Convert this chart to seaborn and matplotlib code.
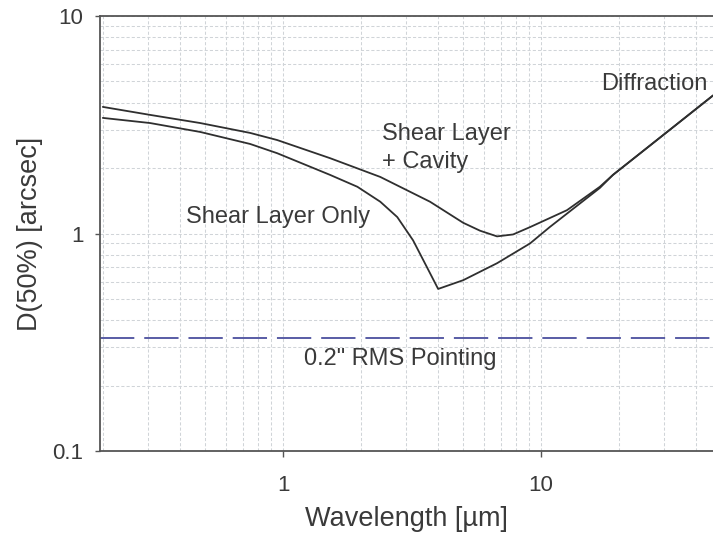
import matplotlib
matplotlib.use("Agg")
import matplotlib.pyplot as plt
import seaborn as sns
import pandas as pd
from matplotlib.ticker import LogLocator, FuncFormatter, NullFormatter

# Image size D(50%) versus wavelength, log-log
wavelength_cavity = [0.2, 0.305, 0.477, 0.745, 0.948, 1.52, 2.38, 3.71, 4.99,
                     5.80, 6.75, 7.79, 9.06, 12.6, 16.9, 19.0, 30.8, 46.4]
d50_cavity = [3.82, 3.51, 3.22, 2.90, 2.69, 2.22, 1.82, 1.40, 1.12,
              1.03, 0.97, 0.99, 1.07, 1.28, 1.64, 1.86, 2.93, 4.31]

wavelength_shear = [0.2, 0.305, 0.477, 0.745, 0.948, 1.52, 1.94, 2.38, 2.77,
                    3.19, 3.61, 3.99, 4.99, 6.75, 9.06, 10.8, 16.9, 19.0, 30.8, 46.4]
d50_shear = [3.40, 3.22, 2.93, 2.58, 2.34, 1.86, 1.64, 1.40, 1.19,
             0.93, 0.70, 0.556, 0.61, 0.73, 0.90, 1.07, 1.62, 1.86, 2.93, 4.31]

pointing_wavelength = [0.195, 46.4]
pointing_d50 = [0.33, 0.33]

x_limits = (0.195, 46.4)
y_limits = (0.1, 10)

sns.set_theme(style="white")
plt.rcParams["font.family"] = ["Liberation Sans", "DejaVu Sans"]

text_color = "#3a3a3a"
curve_color = "#2f2f2f"

fig = plt.figure(figsize=(7.13, 5.37), dpi=100)
ax = fig.add_axes([100 / 713, 86 / 537, 613 / 713, 435 / 537])

cavity = pd.DataFrame({"wavelength": wavelength_cavity, "d50": d50_cavity})
shear = pd.DataFrame({"wavelength": wavelength_shear, "d50": d50_shear})
pointing = pd.DataFrame({"wavelength": pointing_wavelength, "d50": pointing_d50})

sns.lineplot(data=cavity, x="wavelength", y="d50", ax=ax, sort=False,
             estimator=None, color=curve_color, lw=1.3)
sns.lineplot(data=shear, x="wavelength", y="d50", ax=ax, sort=False,
             estimator=None, color=curve_color, lw=1.3)
sns.lineplot(data=pointing, x="wavelength", y="d50", ax=ax, sort=False,
             estimator=None, color="#4b4f9e", lw=1.3, dashes=False)
ax.lines[-1].set_dashes((19, 5.5))

ax.set_xscale("log")
ax.set_yscale("log")
ax.set_xlim(*x_limits)
ax.set_ylim(*y_limits)

ax.xaxis.set_major_locator(LogLocator(base=10))
ax.yaxis.set_major_locator(LogLocator(base=10))
ax.xaxis.set_minor_locator(LogLocator(base=10, subs=range(2, 10)))
ax.yaxis.set_minor_locator(LogLocator(base=10, subs=range(2, 10)))
fmt = FuncFormatter(lambda v, p: f"{v:g}")
ax.xaxis.set_major_formatter(fmt)
ax.yaxis.set_major_formatter(fmt)
ax.xaxis.set_minor_formatter(NullFormatter())
ax.yaxis.set_minor_formatter(NullFormatter())

ax.grid(which="both", color="#d0d4d8", lw=0.75, ls=(0, (3, 2)))
ax.set_axisbelow(True)

ax.tick_params(which="major", axis="x", direction="out", length=4.5, width=1,
               color="#555555", labelsize=16, labelcolor=text_color, pad=13, bottom=True)
ax.tick_params(which="major", axis="y", direction="out", length=3.8, width=1,
               color="#555555", labelsize=16, labelcolor=text_color, pad=8, left=True)
ax.tick_params(which="minor", length=0)

for side in ["left", "bottom", "top"]:
    ax.spines[side].set_color("#555555")
    ax.spines[side].set_linewidth(1.3)
ax.spines["right"].set_visible(False)

ax.set_xlabel("Wavelength [\u00b5m]", fontsize=19.5, color=text_color, labelpad=7)
ax.set_ylabel("D(50%) [arcsec]", fontsize=19.5, color=text_color, labelpad=7)

label_kw = dict(fontsize=17, color=text_color, ha="left", va="baseline")
ax.text(2.41, 2.69, "Shear Layer", **label_kw)
ax.text(2.41, 1.99, "+ Cavity", **label_kw)
ax.text(0.421, 1.118, "Shear Layer Only", **label_kw)
ax.text(17.08, 4.57, "Diffraction", **label_kw)
ax.text(1.206, 0.248, "0.2\" RMS Pointing", **label_kw)

fig.savefig("out.png", dpi=100)
